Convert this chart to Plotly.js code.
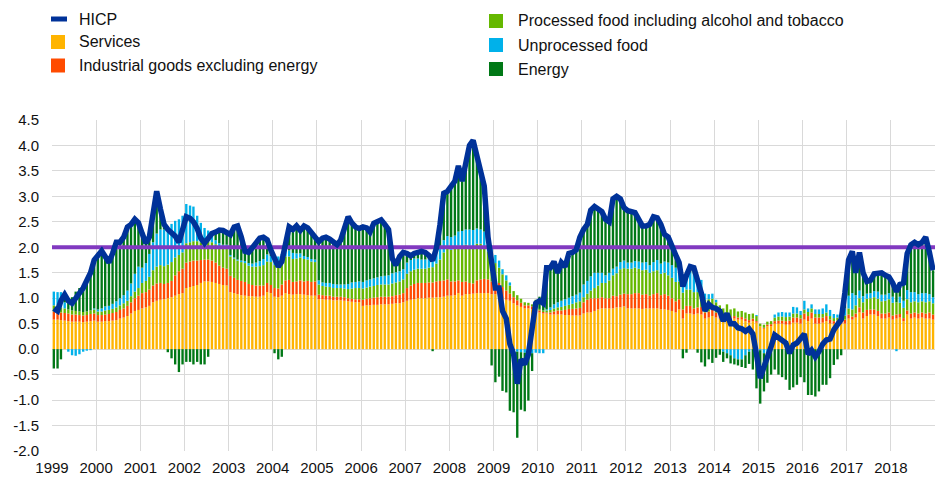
<!DOCTYPE html>
<html>
<head>
<meta charset="utf-8">
<script src="https://cdn.plot.ly/plotly-3.0.1.min.js"></script>
<style>
html,body{margin:0;padding:0;background:#fff;}
#chart{width:935px;height:477px;}
</style>
</head>
<body>
<div id="chart"></div>
<script>
// ---------- data (contributions in percentage points, monthly, Jan 1999 - Dec 2018) ----------
const startYear = 1999;
const yearLabels = ['1999','2000','2001','2002','2003','2004','2005','2006','2007','2008','2009','2010','2011','2012','2013','2014','2015','2016','2017','2018'];
const yTickVals = [-2,-1.5,-1,-0.5,0,0.5,1,1.5,2,2.5,3,3.5,4,4.5];
const yTickText = ['-2.0','-1.5','-1.0','-0.5','0.0','0.5','1.0','1.5','2.0','2.5','3.0','3.5','4.0','4.5'];
const seriesNames = ['HICP','Services','Industrial goods excluding energy','Processed food including alcohol and tobacco','Unprocessed food','Energy'];
const targetValues = [2.0, 2.0];

const services = [
 .58,.58,.57,.56,.55,.54,.54,.54,.53,.54,.55,.56,
 .54,.54,.55,.55,.56,.57,.6,.62,.65,.7,.75,.77,
 .8,.82,.85,.92,.95,.97,.98,1.0,1.02,1.05,1.08,1.1,
 1.2,1.22,1.24,1.26,1.3,1.33,1.33,1.32,1.3,1.28,1.26,1.25,
 1.12,1.1,1.08,1.06,1.05,1.04,1.04,1.03,1.03,1.05,1.12,1.1,
 1.03,1.02,1.05,1.1,1.08,1.07,1.08,1.08,1.07,1.06,1.05,1.05,
 .98,.98,.97,.97,.96,.96,.96,.95,.94,.93,.92,.92,
 .85,.86,.86,.87,.87,.88,.88,.88,.89,.9,.9,.92,
 .95,.97,.98,1.0,1.0,1.0,1.01,1.01,1.02,1.02,1.03,1.05,
 1.05,1.06,1.1,1.05,1.08,1.08,1.09,1.1,1.1,1.1,1.1,1.08,
 1.08,1.05,1.0,.97,.95,.9,.86,.83,.8,.8,.78,.75,
 .72,.7,.7,.68,.68,.68,.68,.67,.67,.66,.66,.66,
 .7,.72,.72,.75,.78,.8,.8,.8,.8,.82,.82,.84,
 .8,.8,.8,.8,.79,.8,.8,.8,.8,.78,.78,.77,
 .75,.72,.78,.6,.7,.7,.68,.7,.68,.6,.62,.65,
 .62,.6,.55,.65,.58,.6,.58,.58,.55,.52,.55,.52,
 .45,.4,.45,.45,.5,.5,.5,.48,.48,.52,.52,.5,
 .58,.55,.6,.5,.5,.52,.55,.5,.5,.5,.5,.5,
 .6,.58,.62,.72,.6,.65,.68,.68,.65,.6,.6,.62,
 .58,.6,.62,.55,.68,.6,.62,.6,.62,.6,.6,.58];

const industrialGoods = [
 .16,.16,.15,.15,.15,.14,.14,.13,.13,.13,.14,.14,
 .13,.13,.13,.14,.15,.16,.17,.18,.2,.22,.25,.28,
 .3,.3,.32,.33,.34,.33,.3,.3,.32,.4,.45,.48,
 .5,.5,.5,.48,.45,.43,.43,.42,.4,.36,.34,.33,
 .32,.3,.28,.28,.27,.24,.22,.22,.22,.2,.18,.16,
 .17,.17,.22,.25,.28,.25,.25,.27,.26,.28,.27,.28,
 .09,.08,.08,.08,.07,.07,.07,.07,.06,.06,.06,.06,
 .12,.13,.14,.14,.15,.15,.15,.15,.15,.16,.17,.18,
 .25,.28,.3,.3,.3,.3,.3,.3,.31,.32,.32,.32,
 .28,.27,.25,.27,.25,.22,.2,.25,.27,.28,.27,.25,
 .26,.25,.22,.18,.14,.12,.1,.08,.06,.06,.06,.06,
 .04,.03,.02,.04,.06,.08,.08,.1,.12,.13,.14,.15,
 .22,.25,.28,.25,.22,.22,.2,.2,.25,.22,.25,.25,
 .28,.28,.3,.3,.28,.28,.25,.28,.3,.28,.3,.28,
 .25,.22,.2,.18,.15,.15,.12,.12,.15,.12,.12,.12,
 .1,.08,.07,.06,.05,.05,.04,.05,.05,.05,.05,.03,
 0,.02,.03,.04,.05,.06,.06,.07,.08,.1,.1,.1,
 .12,.1,.12,.12,.12,.1,.1,.08,.05,.06,.06,.08,
 .08,.06,.08,.1,.12,.12,.1,.1,.1,.1,.1,.1,
 .08,.08,.07,.06,.08,.1,.1,.1,.1,.1,.12,.1];

const processedFood = [
 .12,.12,.10,.09,.08,.08,.07,.07,.07,.07,.07,.08,
 .07,.07,.08,.08,.08,.09,.09,.1,.1,.12,.13,.15,
 .2,.22,.25,.3,.33,.35,.35,.36,.37,.35,.32,.32,
 .38,.38,.38,.38,.35,.35,.36,.36,.36,.38,.4,.42,
 .38,.38,.38,.37,.37,.36,.36,.37,.38,.4,.42,.45,
 .45,.48,.48,.47,.46,.45,.45,.45,.44,.42,.4,.38,
 .2,.18,.18,.17,.17,.17,.17,.17,.18,.2,.22,.22,
 .22,.22,.23,.23,.24,.24,.24,.24,.25,.25,.26,.27,
 .28,.28,.28,.28,.28,.28,.29,.3,.35,.42,.55,.6,
 .62,.65,.68,.7,.72,.73,.73,.72,.7,.65,.55,.45,
 .35,.3,.25,.2,.16,.12,.1,.08,.06,.05,.04,.03,
 .03,.03,.04,.05,.06,.06,.07,.08,.08,.1,.12,.13,
 .1,.12,.15,.2,.25,.28,.3,.35,.4,.45,.5,.5,
 .5,.5,.5,.48,.48,.48,.45,.45,.45,.42,.42,.4,
 .4,.38,.35,.33,.32,.32,.32,.3,.28,.25,.24,.22,
 .2,.18,.18,.17,.15,.15,.12,.12,.12,.12,.1,.1,
 .05,.06,.06,.06,.07,.08,.08,.08,.08,.08,.08,.07,
 .08,.08,.08,.07,.07,.07,.07,.07,.06,.06,.06,.08,
 .12,.14,.16,.18,.2,.22,.22,.24,.24,.24,.25,.26,
 .25,.24,.22,.2,.22,.22,.22,.22,.22,.22,.22,.22];

const unprocessedFood = [
 .27,.26,.3,.12,-.05,-.12,-.13,-.1,-.05,-.03,-.02,.02,
 .04,.06,.08,.08,.1,.12,.14,.16,.2,.25,.35,.42,
 .3,.35,.45,.55,.65,.7,.72,.75,.75,.72,.7,.72,
 .77,.72,.68,.5,.38,.27,.21,.12,.08,.06,.05,.05,
 .03,.02,.02,.03,.04,.05,.06,.08,.1,.12,.14,.12,
 .18,.15,.12,.1,.12,.12,.1,.08,.06,.05,.05,.05,
 .08,.07,.07,.08,.08,.07,.07,.08,.1,.12,.12,.13,
 .13,.14,.14,.15,.15,.16,.17,.18,.2,.2,.2,.2,
 .22,.22,.22,.2,.18,.18,.18,.17,.2,.22,.24,.25,
 .25,.25,.28,.3,.3,.32,.32,.3,.28,.28,.26,.24,
 .16,.14,.1,.1,.06,0,-.05,-.06,-.07,-.08,-.08,-.07,
 -.08,-.08,.02,.05,.08,.1,.12,.13,.14,.15,.15,.17,
 .25,.25,.28,.3,.25,.2,.15,.15,.13,.13,.14,.15,
 .12,.12,.13,.14,.15,.15,.15,.18,.2,.2,.22,.25,
 .25,.28,.3,.3,.35,.35,.35,.3,.25,.12,.1,.1,
 .05,0,-.05,-.08,-.12,-.18,-.2,-.2,-.12,-.05,0,.02,
 -.02,-.08,-.06,0,.06,.08,.09,.09,.08,.13,.12,.08,
 .17,.07,.08,.09,.09,.11,.16,.12,.08,.06,.08,.14,
 .25,.32,.2,.15,.12,.1,.1,.12,.14,.13,.12,.12,
 .12,-.04,.12,.14,.18,.2,.18,.16,.16,.18,.14,.12];

const energy = [
 -.38,-.38,-.2,.15,.17,.26,.38,.46,.52,.64,.76,.95,
 1.07,1.13,.98,.85,.99,1.16,1.1,1.14,1.25,1.16,1.07,.86,
 .67,.39,.33,.55,.83,.4,.1,-.06,-.18,-.3,-.45,-.3,
 -.25,-.25,-.3,-.25,-.3,-.3,-.15,.05,.16,.26,.28,.25,
 .4,.6,.66,.46,.19,.21,.3,.4,.45,.43,.29,.12,
 -.08,-.2,-.15,.16,.46,.46,.54,.45,.59,.57,.51,.46,
 .76,.87,.9,.86,.83,.78,.87,1.07,1.32,1.17,1.08,1.04,
 1.08,1.03,.93,1.08,1.11,1.11,1.01,.9,.29,.14,.29,.33,
 .18,.08,.1,.12,.16,.14,.06,-.04,.1,.47,.92,.88,
 1.0,1.07,1.29,.98,1.3,1.65,1.76,1.43,1.25,.89,.02,-.32,
 -.65,-.54,-.82,-.85,-1.21,-1.24,-1.69,-1.13,-1.15,-.93,-.35,.13,
 .24,.22,.82,.78,.84,.58,.75,.64,.87,.86,.88,1.09,
 1.08,1.11,1.3,1.3,1.25,1.2,1.1,1.0,1.37,1.38,1.24,1.04,
 1.02,1.0,.95,.83,.72,.71,.8,.89,.83,.77,.53,.5,
 .35,.25,.07,-.18,-.07,.1,.13,-.07,-.26,-.34,-.2,-.27,
 -.17,-.11,-.2,-.1,-.16,-.12,-.12,-.15,-.25,-.24,-.4,-.77,
 -1.05,-.75,-.6,-.5,-.4,-.5,-.55,-.6,-.8,-.75,-.7,-.55,
 -.65,-.9,-.9,-.93,-.83,-.7,-.7,-.57,-.31,-.2,-.12,.3,
 .7,.82,.44,.75,.46,.24,.25,.34,.35,.43,.38,.32,
 .27,.25,.24,.35,.72,.93,.98,.97,1.0,1.1,.82,.53];

const hicp = [
 .8,.75,.95,1.07,.95,.9,1.0,1.1,1.2,1.35,1.5,1.75,
 1.85,1.93,1.82,1.7,1.88,2.1,2.1,2.2,2.4,2.45,2.55,2.48,
 2.27,2.08,2.2,2.65,3.1,2.75,2.45,2.35,2.28,2.22,2.1,2.32,
 2.6,2.57,2.5,2.37,2.18,2.08,2.18,2.27,2.3,2.34,2.33,2.3,
 2.25,2.4,2.42,2.2,1.92,1.9,1.98,2.1,2.18,2.2,2.15,1.95,
 1.75,1.62,1.72,2.08,2.4,2.35,2.42,2.33,2.42,2.38,2.28,2.22,
 2.11,2.18,2.2,2.16,2.11,2.05,2.14,2.34,2.6,2.48,2.4,2.37,
 2.4,2.38,2.3,2.47,2.52,2.54,2.45,2.35,1.78,1.65,1.82,1.9,
 1.88,1.83,1.88,1.9,1.92,1.9,1.84,1.74,1.98,2.45,3.06,3.1,
 3.2,3.3,3.6,3.3,3.65,4.0,4.1,3.8,3.6,3.2,2.2,1.7,
 1.2,1.2,.75,.6,.1,-.1,-.68,-.2,-.3,-.1,.45,.9,
 .95,.9,1.6,1.6,1.72,1.5,1.7,1.62,1.88,1.9,1.95,2.2,
 2.35,2.45,2.73,2.8,2.75,2.7,2.55,2.5,2.95,3.0,2.95,2.78,
 2.72,2.7,2.68,2.55,2.42,2.42,2.45,2.6,2.58,2.45,2.25,2.2,
 2.0,1.85,1.7,1.23,1.45,1.62,1.6,1.35,1.1,.75,.88,.82,
 .8,.75,.55,.7,.5,.5,.42,.4,.35,.4,.3,-.1,
 -.57,-.35,-.12,.05,.28,.22,.18,.12,-.08,.08,.12,.2,
 .3,-.1,-.02,-.15,-.05,.1,.18,.2,.38,.48,.58,1.1,
 1.75,1.92,1.5,1.9,1.5,1.33,1.35,1.48,1.48,1.5,1.45,1.42,
 1.3,1.13,1.27,1.3,1.88,2.05,2.1,2.05,2.1,2.2,1.9,1.55];

// ---------- styling ----------
const colors = {hicp:'#003299', services:'#FFB400', igee:'#FF4B00', pf:'#65B800', uf:'#00B1EA', energy:'#007816', target:'#8139C0'};
const FONT = 'Liberation Sans, Arial, Helvetica, sans-serif';

// month dates (mid-month) for the date axis
const months = services.map((_, i) => {
  const y = startYear + Math.floor(i / 12);
  const mo = String(i % 12 + 1).padStart(2, '0');
  return y + '-' + mo + '-16';
});
const endDate = (startYear + yearLabels.length) + '-01-01';

function barTrace(name, values, color) {
  return {type:'bar', name:name, x:months, y:values, marker:{color:color, line:{width:0}}, hoverinfo:'skip'};
}

const traces = [
  barTrace(seriesNames[1], services, colors.services),
  barTrace(seriesNames[2], industrialGoods, colors.igee),
  barTrace(seriesNames[3], processedFood, colors.pf),
  barTrace(seriesNames[4], unprocessedFood, colors.uf),
  barTrace(seriesNames[5], energy, colors.energy),
  {type:'scatter', mode:'lines', name:'target', x:[startYear + '-01-01', endDate], y:targetValues,
   line:{color:colors.target, width:4}, hoverinfo:'skip'},
  {type:'scatter', mode:'lines', name:seriesNames[0], x:months, y:hicp,
   line:{color:colors.hicp, width:5.5, shape:'linear'}, hoverinfo:'skip'}
];

// ---------- layout geometry ----------
const L = 52, T = 120, W = 883, H = 331;
const px = x => (x - L) / W;
const py = y => (T + H - y) / H;

const legendItems = [
  {name:seriesNames[0], color:colors.hicp, col:0, cy:19, line:true},
  {name:seriesNames[1], color:colors.services, col:0, cy:42},
  {name:seriesNames[2], color:colors.igee, col:0, cy:65.5},
  {name:seriesNames[3], color:colors.pf, col:1, cy:21},
  {name:seriesNames[4], color:colors.uf, col:1, cy:45},
  {name:seriesNames[5], color:colors.energy, col:1, cy:69}
];
const colX = [51, 489];
const textX = [77, 516];
const shapes = [];
const annotations = [];
legendItems.forEach(it => {
  const x0 = colX[it.col];
  if (it.line) {
    shapes.push({type:'rect', xref:'paper', yref:'paper', x0:px(x0), x1:px(x0 + 16), y0:py(it.cy + 2.5), y1:py(it.cy - 2.5),
      fillcolor:it.color, line:{width:0}});
  } else {
    shapes.push({type:'rect', xref:'paper', yref:'paper', x0:px(x0), x1:px(x0 + 14), y0:py(it.cy + 7), y1:py(it.cy - 7),
      fillcolor:it.color, line:{width:0}});
  }
  annotations.push({xref:'paper', yref:'paper', x:px(textX[it.col]), y:py(it.cy), xanchor:'left', yanchor:'middle',
    text:it.name, showarrow:false, font:{family:FONT, size:16, color:'#111'}});
});

const layout = {
  width:935, height:477,
  margin:{l:L, r:0, t:T, b:477 - T - H, pad:0},
  paper_bgcolor:'#ffffff', plot_bgcolor:'#ffffff',
  barmode:'relative', bargap:0.3,
  showlegend:false,
  font:{family:FONT, size:15, color:'#111'},
  xaxis:{type:'date', range:[startYear + '-01-01', endDate],
    tickvals:yearLabels.map(y => y + '-01-01'), ticktext:yearLabels,
    showgrid:true, gridcolor:'#d9d9d9', gridwidth:1, zeroline:false, showline:false, ticks:'',
    tickfont:{family:FONT, size:15, color:'#111'}, ticklabelstandoff:6, fixedrange:true},
  yaxis:{range:[-2, 4.5], tickvals:yTickVals, ticktext:yTickText,
    showgrid:true, gridcolor:'#d9d9d9', gridwidth:1, zeroline:false, showline:false, ticks:'',
    tickfont:{family:FONT, size:15, color:'#111'}, ticklabelstandoff:12, fixedrange:true},
  shapes:shapes,
  annotations:annotations
};

Plotly.newPlot('chart', traces, layout, {staticPlot:true, displayModeBar:false});
</script>
</body>
</html>
